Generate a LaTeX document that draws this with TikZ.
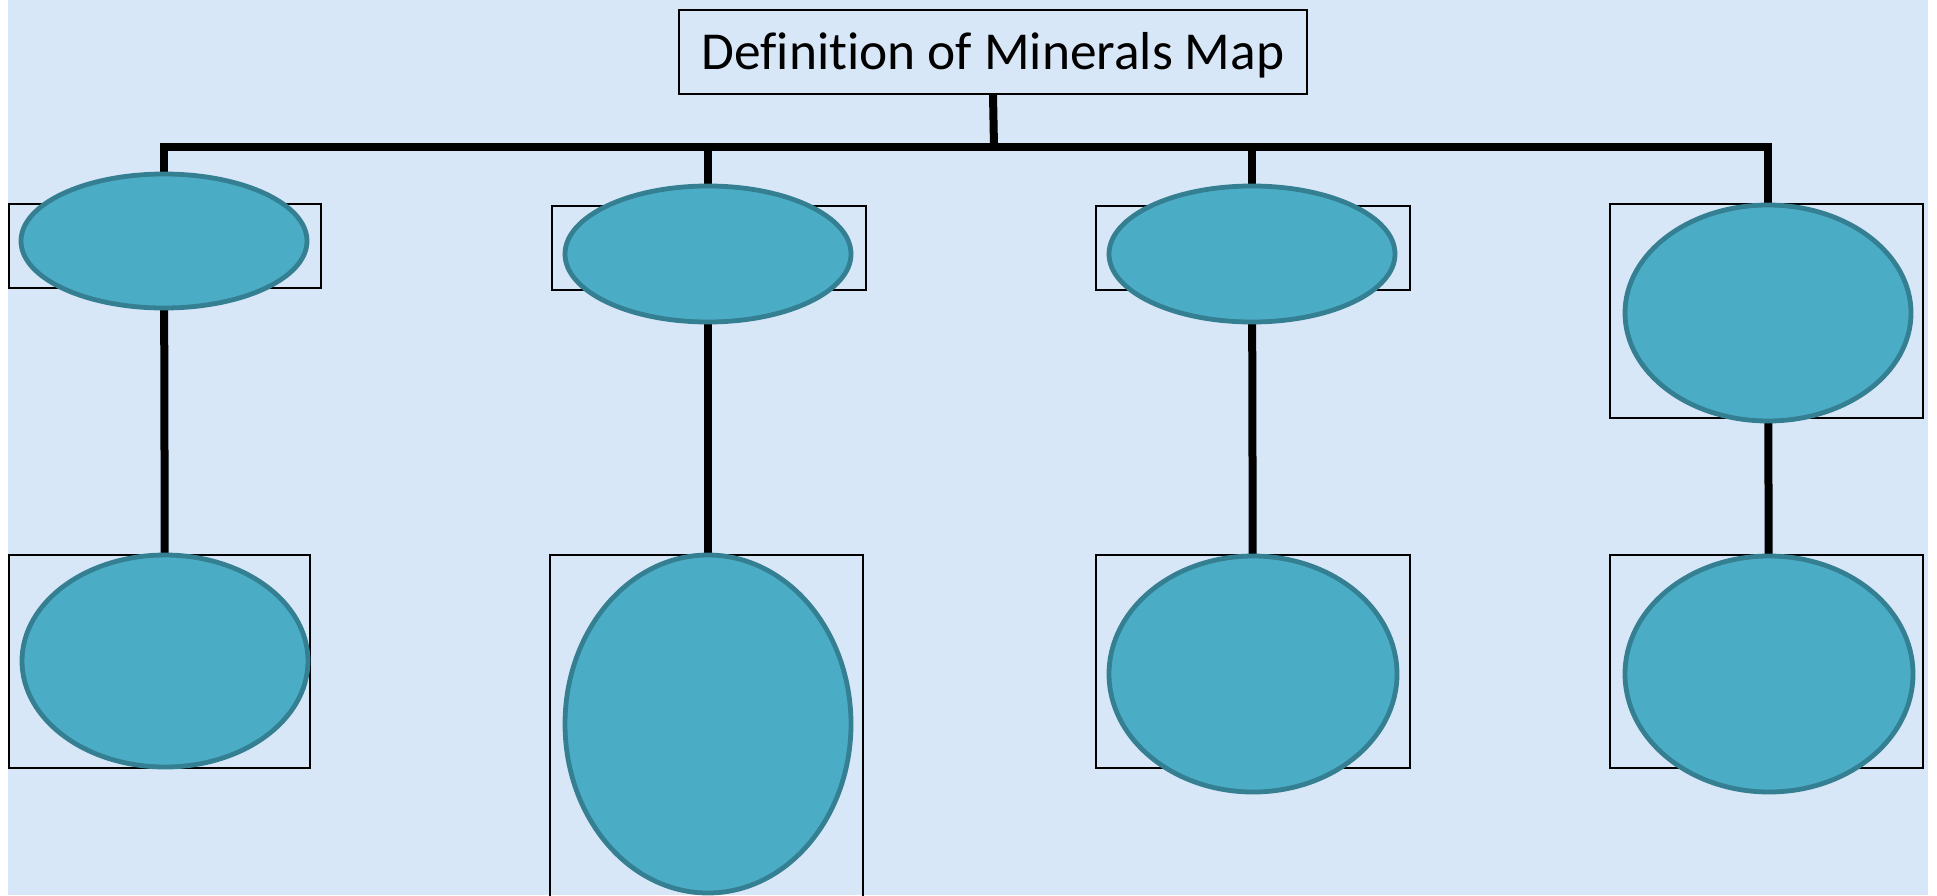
\documentclass[tikz,border=0pt]{standalone}
\usepackage{fontspec}
\setmainfont[Ligatures=NoCommon]{Carlito}
\usetikzlibrary{shapes.geometric}
\pgfdeclarelayer{back}
\pgfdeclarelayer{mid}
\pgfsetlayers{back,mid,main}
\definecolor{bgblue}{HTML}{D8E7F7}
\definecolor{ovfill}{HTML}{4BACC6}
\definecolor{ovline}{HTML}{357F92}
\tikzset{
  x=0.5pt, y=-0.5pt,
  oval/.style={ellipse, draw=ovline, fill=ovfill, line width=2.4pt, inner sep=0pt, minimum width=143pt},
  conn/.style={line width=4pt, black},
  framebox/.style={draw=black, line width=0.9pt},
  titlebox/.style={draw=black, line width=0.9pt, fill=bgblue, minimum width=314pt, minimum height=42pt, inner sep=0pt, text height=22pt, text depth=5pt, font=\fontsize{26.7}{30}\selectfont}
}
\begin{document}
\begin{tikzpicture}
\useasboundingbox (0,0) rectangle (1937,895);
\begin{pgfonlayer}{back}
  \fill[bgblue] (8,0) rectangle (1928,895);
  \draw[framebox] (9,204) rectangle (321,288);
  \draw[framebox] (552,206) rectangle (866,290);
  \draw[framebox] (1096,206) rectangle (1410,290);
  \draw[framebox] (1610,204) rectangle (1923,418);
  \draw[framebox] (9,555) rectangle (310,768);
  \draw[framebox] (550,555) rectangle (863,905);
  \draw[framebox] (1096,555) rectangle (1410,768);
  \draw[framebox] (1610,555) rectangle (1923,768);
\end{pgfonlayer}
\node[titlebox] (t) at (993,52) {Definition of Minerals Map};
\node[oval, minimum height=67pt] (e1) at (164,241) {};
\node[oval, minimum height=68pt] (e2) at (708,254) {};
\node[oval, minimum height=68pt] (e3) at (1252,254) {};
\node[oval, minimum height=108pt] (e4) at (1768,313) {};
\node[oval, minimum height=106pt] (e5) at (165,661) {};
\node[oval, minimum height=169pt] (e6) at (708,724) {};
\node[oval, minimum width=144pt, minimum height=118pt] (e7) at (1253,674) {};
\node[oval, minimum width=144pt, minimum height=118pt] (e8) at (1769,674) {};
\coordinate (bj) at (994,147);
\begin{pgfonlayer}{mid}
  \draw[conn] (t.south) -- (bj);
  \draw[conn] (e1.center) |- (bj) -| (e4.center);
  \draw[conn] (e2.center) -- (e2.center |- bj);
  \draw[conn] (e3.center) -- (e3.center |- bj);
  \draw[conn] (e1.center) -- (e5.center);
  \draw[conn] (e2.center) -- (e6.center);
  \draw[conn] (e3.center) -- (e7.center);
  \draw[conn] (e4.center) -- (e8.center);
\end{pgfonlayer}
\end{tikzpicture}
\end{document}
